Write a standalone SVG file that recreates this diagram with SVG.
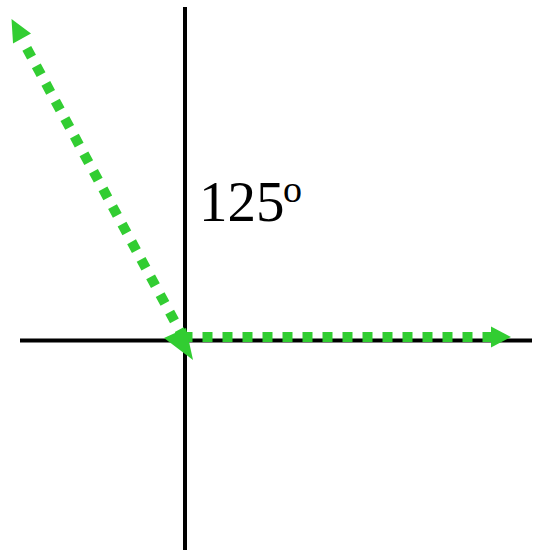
<svg xmlns="http://www.w3.org/2000/svg" width="533" height="553" viewBox="0 0 533 553">
<style>
.axis{stroke:#000;stroke-width:4;fill:none}
.vec{stroke:#32cd32;stroke-width:10;fill:none;stroke-dasharray:10 10}
.head{fill:#32cd32}
.lbl{font-family:"Liberation Serif","Times New Roman",serif;fill:#000}
</style>
<rect width="533" height="553" fill="#fff"/>
<g id="axes">
<line class="axis" x1="185" y1="7" x2="185" y2="550"/>
<line class="axis" x1="20" y1="340.5" x2="532" y2="340.5"/>
</g>
<g id="connectors">
<path class="vec" d="M182.5 337 H492"/>
<polygon class="head" points="511,337 491,326.5 491,347.5"/>
<path class="vec" d="M26.8 48.3 L181 333"/>
<polygon class="head" points="11.5,19 31,33.5 13,43.5"/>
<polygon class="head" points="164,338 186,328 193,360"/>
</g>
<g id="label">
<text class="lbl" x="199" y="221" font-size="57">125</text>
<text class="lbl" x="283" y="202" font-size="38">o</text>
</g>
</svg>
